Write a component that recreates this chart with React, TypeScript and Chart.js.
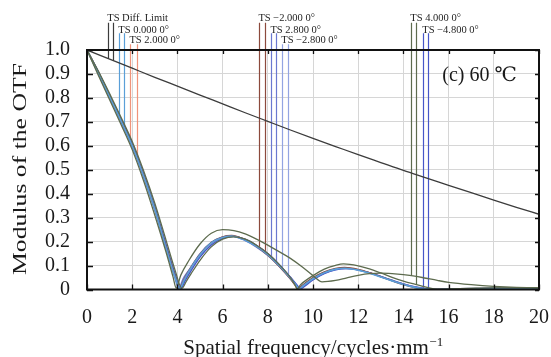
import React, { useEffect, useRef } from "react";
import { Chart, registerables } from "chart.js";

Chart.register(...registerables);

// ---------- data ----------
const xTickValues = [0, 2, 4, 6, 8, 10, 12, 14, 16, 18, 20];
const xTickLabels = ["0", "2", "4", "6", "8", "10", "12", "14", "16", "18", "20"];
const yTickValues = [0, 0.1, 0.2, 0.3, 0.4, 0.5, 0.6, 0.7, 0.8, 0.9, 1.0];
const yTickLabels = ["0", "0.1", "0.2", "0.3", "0.4", "0.5", "0.6", "0.7", "0.8", "0.9", "1.0"];

const diffLimit = [
  [0, 1], [1, 0.962], [2, 0.924], [3, 0.886], [4, 0.849], [5, 0.812], [6, 0.775],
  [7, 0.738], [8, 0.702], [9, 0.666], [10, 0.631], [11, 0.597], [12, 0.563],
  [13, 0.53], [14, 0.497], [15, 0.466], [16, 0.435], [17, 0.404], [18, 0.373],
  [19, 0.343], [20, 0.314],
];

const ts0 = [
  [0, 1], [0.5, 0.905], [1, 0.805], [1.5, 0.705], [2, 0.6], [2.5, 0.475], [3, 0.335],
  [3.5, 0.172], [3.9, 0.05], [4.1, 0.004], [4.3, 0.04], [4.5, 0.075], [5, 0.145],
  [5.5, 0.195], [6, 0.217], [6.4, 0.223], [7, 0.206], [7.5, 0.18], [8, 0.146],
  [8.5, 0.1], [9, 0.047], [9.25, 0.018], [9.38, 0.002], [9.55, 0.015], [10, 0.045],
  [10.5, 0.07], [11, 0.085], [11.4, 0.089], [12, 0.081], [12.5, 0.068], [13, 0.052],
  [13.5, 0.036], [14, 0.021], [14.5, 0.009], [15, 0.002], [15.3, 0], [16, 0.002],
  [17, 0.004], [18, 0.005], [19, 0.004], [20, 0.003],
];

const tsP2 = [
  [0, 1], [0.5, 0.91], [1, 0.81], [1.5, 0.71], [2, 0.605], [2.5, 0.48], [3, 0.34],
  [3.5, 0.18], [3.9, 0.058], [4.12, 0.003], [4.3, 0.035], [4.5, 0.07], [5, 0.14],
  [5.5, 0.19], [6, 0.216], [6.45, 0.223], [7, 0.208], [7.5, 0.183], [8, 0.15],
  [8.5, 0.104], [9, 0.05], [9.25, 0.02], [9.4, 0.002], [9.6, 0.016], [10, 0.042],
  [10.5, 0.068], [11, 0.084], [11.45, 0.088], [12, 0.082], [12.5, 0.07], [13, 0.054],
  [13.5, 0.038], [14, 0.023], [14.5, 0.01], [15, 0.003], [15.35, 0], [16, 0.002],
  [17, 0.004], [18, 0.005], [19, 0.005], [20, 0.004],
];

const tsM2 = [
  [0, 1], [0.5, 0.905], [1, 0.808], [1.5, 0.707], [2, 0.602], [2.5, 0.478], [3, 0.337],
  [3.5, 0.176], [3.9, 0.055], [4.08, 0.005], [4.3, 0.045], [4.5, 0.078], [5, 0.148],
  [5.5, 0.196], [6, 0.22], [6.4, 0.226], [7, 0.208], [7.5, 0.18], [8, 0.143],
  [8.5, 0.097], [9, 0.043], [9.2, 0.018], [9.33, 0.002], [9.5, 0.016], [10, 0.05],
  [10.5, 0.074], [11, 0.088], [11.4, 0.092], [12, 0.084], [12.5, 0.07], [13, 0.053],
  [13.5, 0.036], [14, 0.02], [14.5, 0.008], [15, 0.001], [15.2, 0], [16, 0.003],
  [17, 0.005], [18, 0.006], [19, 0.005], [20, 0.004],
];

const tsP28 = [
  [0, 1], [0.5, 0.9], [1, 0.8], [1.5, 0.7], [2, 0.595], [2.5, 0.47], [3, 0.33],
  [3.5, 0.168], [3.9, 0.045], [4.05, 0.004], [4.25, 0.045], [4.5, 0.08], [5, 0.15],
  [5.5, 0.197], [6, 0.22], [6.35, 0.224], [7, 0.204], [7.5, 0.177], [8, 0.142],
  [8.5, 0.097], [9, 0.045], [9.25, 0.015], [9.36, 0.002], [9.55, 0.017], [10, 0.047],
  [10.5, 0.072], [11, 0.086], [11.4, 0.09], [12, 0.082], [12.5, 0.069], [13, 0.053],
  [13.5, 0.037], [14, 0.022], [14.5, 0.01], [15, 0.003], [15.3, 0], [16, 0.002],
  [17, 0.004], [18, 0.005], [19, 0.005], [20, 0.004],
];

const tsM28 = [
  [0, 1], [0.5, 0.908], [1, 0.81], [1.5, 0.71], [2, 0.607], [2.5, 0.482], [3, 0.343],
  [3.5, 0.183], [3.9, 0.06], [4.13, 0.004], [4.35, 0.04], [4.5, 0.065], [5, 0.138],
  [5.5, 0.188], [6, 0.214], [6.45, 0.222], [7, 0.207], [7.5, 0.182], [8, 0.148],
  [8.5, 0.103], [9, 0.05], [9.3, 0.016], [9.42, 0.002], [9.6, 0.014], [10, 0.042],
  [10.5, 0.068], [11, 0.083], [11.45, 0.087], [12, 0.081], [12.5, 0.069], [13, 0.054],
  [13.5, 0.038], [14, 0.023], [14.5, 0.011], [15, 0.003], [15.4, 0], [16, 0.002],
  [17, 0.004], [18, 0.005], [19, 0.005], [20, 0.004],
];

const tsP4T = [
  [0, 1], [0.5, 0.895], [1, 0.792], [1.5, 0.69], [2, 0.584], [2.5, 0.455], [3, 0.31],
  [3.5, 0.155], [3.8, 0.055], [3.95, 0.006], [4.15, 0.06], [4.5, 0.12], [5, 0.19],
  [5.5, 0.235], [6, 0.25], [6.5, 0.246], [7, 0.232], [7.5, 0.21], [8, 0.185],
  [8.5, 0.158], [9, 0.13], [9.5, 0.096], [10, 0.058], [10.4, 0.032], [11, 0.038],
  [11.5, 0.049], [12, 0.059], [12.5, 0.066], [13, 0.068], [13.5, 0.066], [14, 0.062],
  [14.5, 0.056], [15, 0.047], [15.5, 0.038], [16, 0.03], [17, 0.02], [18, 0.013],
  [19, 0.009], [20, 0.008],
];

const tsP4S = [
  [0, 1], [0.5, 0.912], [1, 0.818], [1.5, 0.72], [2, 0.618], [2.5, 0.497], [3, 0.36],
  [3.5, 0.205], [3.9, 0.08], [4.2, 0.005], [4.4, 0.035], [4.6, 0.065], [5, 0.122],
  [5.5, 0.178], [6, 0.21], [6.5, 0.22], [7, 0.21], [7.5, 0.185], [8, 0.15],
  [8.5, 0.105], [9, 0.05], [9.2, 0.02], [9.3, 0.003], [9.45, 0.02], [10, 0.058],
  [10.5, 0.085], [11, 0.101], [11.35, 0.107], [12, 0.099], [12.5, 0.086], [13, 0.069],
  [13.5, 0.051], [14, 0.035], [14.5, 0.022], [15, 0.01], [15.5, 0.001], [16, 0.002],
  [17, 0.005], [18, 0.007], [19, 0.007], [20, 0.006],
];

const tsM48 = [
  [0, 1], [0.5, 0.91], [1, 0.812], [1.5, 0.712], [2, 0.61], [2.5, 0.486], [3, 0.347],
  [3.5, 0.188], [3.9, 0.065], [4.15, 0.004], [4.35, 0.038], [4.5, 0.062], [5, 0.135],
  [5.5, 0.186], [6, 0.213], [6.5, 0.222], [7, 0.21], [7.5, 0.185], [8, 0.15],
  [8.5, 0.105], [9, 0.052], [9.3, 0.018], [9.45, 0.002], [9.65, 0.015], [10, 0.04],
  [10.5, 0.066], [11, 0.082], [11.5, 0.087], [12, 0.082], [12.5, 0.07], [13, 0.055],
  [13.5, 0.039], [14, 0.024], [14.5, 0.012], [15, 0.004], [15.45, 0], [16, 0.002],
  [17, 0.004], [18, 0.005], [19, 0.005], [20, 0.004],
];

// legend markers (Zemax style labels with leader lines)
const markerLabels = [
  "TS Diff. Limit", "TS 0.000 0°", "TS 2.000 0°", "TS \u22122.000 0°",
  "TS 2.800 0°", "TS \u22122.800 0°", "TS 4.000 0°", "TS \u22124.800 0°",
];
const markerRow = [0, 1, 2, 0, 1, 2, 0, 1];
const markerFreqT = [0.94, 1.43, 1.92, 7.63, 8.16, 8.64, 14.35, 14.88];
const markerFreqS = [1.17, 1.65, 2.23, 7.89, 8.38, 8.91, 14.57, 15.1];
const markerEndT = [0.965, 0.719, 0.622, 0.17, 0.128, 0.088, 0.058, 0.006];
const markerEndS = [0.957, 0.674, 0.547, 0.151, 0.108, 0.06, 0.02, 0.003];
const rowLabelY = [1.121, 1.073, 1.029];
const rowLineTop = [1.114, 1.07, 1.024];

const COLORS = {
  diff: "#3c3c3c",
  f0: "#5a9fd8",
  p2: "#f0937a",
  m2: "#8c4a3c",
  p28: "#6a78d0",
  m28: "#93a4e2",
  p4: "#5d6b4e",
  m48: "#4656c8",
};
const markerColors = [
  COLORS.diff, COLORS.f0, COLORS.p2, COLORS.m2, COLORS.p28, COLORS.m28, COLORS.p4, COLORS.m48,
];

const annotationText = "(c) 60 \u2103";
const annotationPos = [15.72, 0.892];
const xTitle = "Spatial frequency/cycles\u00b7mm";
const xTitleSup = "\u22121";
const yTitle = "Modulus of the OTF";

const SERIF = '"Liberation Serif", "Times New Roman", "DejaVu Serif", serif';

const decorPlugin = {
  id: "decor",
  beforeDatasetsDraw(chart: any) {
    const { ctx, scales } = chart;
    const x = scales.x;
    const y = scales.y;
    ctx.save();
    ctx.lineWidth = 1.2;
    for (let i = 0; i < markerLabels.length; i++) {
      const r = markerRow[i];
      const top = y.getPixelForValue(rowLineTop[r]);
      ctx.strokeStyle = markerColors[i];
      const xt = Math.round(x.getPixelForValue(markerFreqT[i])) + 0.5;
      const xs = Math.round(x.getPixelForValue(markerFreqS[i])) + 0.5;
      ctx.beginPath();
      ctx.moveTo(xt, top);
      ctx.lineTo(xt, y.getPixelForValue(markerEndT[i]));
      ctx.moveTo(xs, top);
      ctx.lineTo(xs, y.getPixelForValue(markerEndS[i]));
      ctx.stroke();
    }
    ctx.fillStyle = "#1e1e1e";
    ctx.font = "10.5px " + SERIF;
    ctx.textAlign = "left";
    ctx.textBaseline = "alphabetic";
    for (let i = 0; i < markerLabels.length; i++) {
      const r = markerRow[i];
      const xt = x.getPixelForValue(markerFreqT[i]) - 1;
      ctx.fillText(markerLabels[i], xt, y.getPixelForValue(rowLabelY[r]));
    }
    ctx.restore();
  },
  afterDraw(chart: any) {
    const { ctx, chartArea, scales } = chart;
    const { left, right, top, bottom } = chartArea;
    const x = scales.x;
    const y = scales.y;
    ctx.save();
    // frame
    ctx.strokeStyle = "#111";
    ctx.lineWidth = 2;
    ctx.strokeRect(left, top, right - left, bottom - top);
    // inward ticks
    ctx.lineWidth = 1.3;
    ctx.beginPath();
    for (const v of xTickValues) {
      const px = Math.round(x.getPixelForValue(v)) + 0.5;
      ctx.moveTo(px, bottom);
      ctx.lineTo(px, bottom - 5);
      ctx.moveTo(px, top);
      ctx.lineTo(px, top + 4);
    }
    for (const v of yTickValues) {
      const py = Math.round(y.getPixelForValue(v)) + 0.5;
      ctx.moveTo(left, py);
      ctx.lineTo(left + 6, py);
      ctx.moveTo(right, py);
      ctx.lineTo(right - 4, py);
    }
    ctx.stroke();
    // annotation
    ctx.fillStyle = "#1a1a1a";
    ctx.font = "20px " + SERIF;
    ctx.textAlign = "left";
    ctx.textBaseline = "middle";
    ctx.fillText(annotationText, x.getPixelForValue(annotationPos[0]), y.getPixelForValue(annotationPos[1]));
    // x title with superscript
    ctx.textBaseline = "alphabetic";
    ctx.font = "21px " + SERIF;
    const w1 = ctx.measureText(xTitle).width;
    ctx.font = "13px " + SERIF;
    const w2 = ctx.measureText(xTitleSup).width;
    const cx = (left + right) / 2;
    const startX = cx - (w1 + w2) / 2;
    ctx.font = "21px " + SERIF;
    ctx.fillText(xTitle, startX, 354);
    ctx.font = "13px " + SERIF;
    ctx.fillText(xTitleSup, startX + w1 + 0.5, 346);
    // y title (elongated as in the reference)
    ctx.font = "19.5px " + SERIF;
    const wy = ctx.measureText(yTitle).width;
    ctx.translate(26, 169);
    ctx.rotate(-Math.PI / 2);
    ctx.scale(212 / wy, 1);
    ctx.textAlign = "center";
    ctx.fillText(yTitle, 0, 0);
    ctx.restore();
  },
};

function ds(label: string, data: number[][], color: string, width = 1.3) {
  return {
    label,
    data,
    borderColor: color,
    backgroundColor: color,
    borderWidth: width,
    pointRadius: 0,
    fill: false,
    cubicInterpolationMode: "monotone" as const,
  };
}

export default function App() {
  const ref = useRef<HTMLCanvasElement | null>(null);
  useEffect(() => {
    if (!ref.current) return;
    const chart = new Chart(ref.current, {
      type: "line",
      data: {
        datasets: [
          ds("TS 4.000 0° T", tsP4T, COLORS.p4),
          ds("TS 4.000 0° S", tsP4S, COLORS.p4),
          ds("TS 0.000 0°", ts0, COLORS.f0, 1.6),
          ds("TS -2.000 0°", tsM2, COLORS.m2),
          ds("TS 2.800 0°", tsP28, COLORS.p28),
          ds("TS -4.800 0°", tsM48, COLORS.m48),
          ds("TS -2.800 0°", tsM28, COLORS.m28),
          ds("TS 2.000 0°", tsP2, COLORS.p2),
          ds("TS Diff. Limit", diffLimit, COLORS.diff),
        ] as any,
      },
      options: {
        responsive: false,
        animation: false,
        parsing: true,
        layout: { padding: { top: 50, right: 0, left: 0, bottom: 0 } },
        plugins: {
          legend: { display: false },
          tooltip: { enabled: false },
          title: { display: false },
        },
        scales: {
          x: {
            type: "linear",
            min: 0,
            max: 20,
            afterFit: (s: any) => {
              s.height = 67.5;
              s.paddingRight = 12;
              s.paddingLeft = 0;
            },
            afterBuildTicks: (s: any) => {
              s.ticks = xTickValues.map((v) => ({ value: v }));
            },
            ticks: {
              padding: 16,
              color: "#1a1a1a",
              font: { family: SERIF, size: 20 },
              maxRotation: 0,
              autoSkip: false,
              callback: (v: any) => xTickLabels[xTickValues.indexOf(Number(v))] ?? "",
            },
            grid: { color: "#d6d6d6", lineWidth: 1, drawTicks: false },
            border: { display: false },
          },
          y: {
            type: "linear",
            min: 0,
            max: 1,
            afterFit: (s: any) => {
              s.width = 87;
              s.paddingTop = 0;
              s.paddingBottom = 0;
            },
            afterBuildTicks: (s: any) => {
              s.ticks = yTickValues.map((v) => ({ value: v }));
            },
            ticks: {
              padding: 17,
              color: "#1a1a1a",
              font: { family: SERIF, size: 20 },
              autoSkip: false,
              callback: (v: any) => yTickLabels[Math.round(Number(v) * 10)] ?? "",
            },
            grid: { color: "#d6d6d6", lineWidth: 1, drawTicks: false },
            border: { display: false },
          },
        },
      },
      plugins: [decorPlugin],
    } as any);
    return () => chart.destroy();
  }, []);

  return (
    <div
      style={{
        position: "fixed",
        left: 0,
        top: 0,
        width: 551,
        height: 357,
        background: "#fff",
      }}
    >
      <canvas ref={ref} width={551} height={357} style={{ width: 551, height: 357, display: "block" }} />
    </div>
  );
}
